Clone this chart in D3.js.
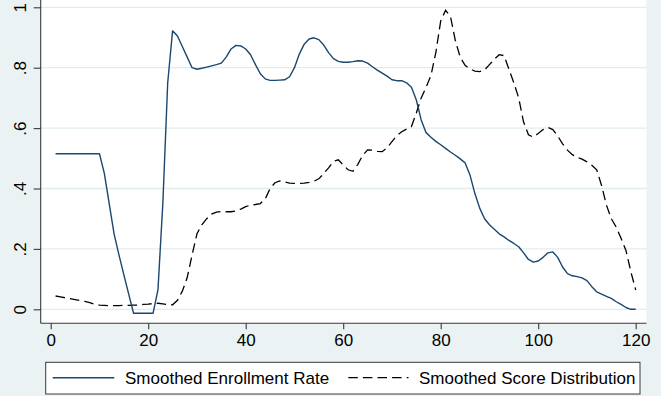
<!DOCTYPE html>
<html>
<head>
<meta charset="utf-8">
<script src="https://cdn.jsdelivr.net/npm/d3@7"></script>
<style>
  html, body { margin: 0; padding: 0; background: #eaf2f3; }
  svg { display: block; font-family: "Liberation Sans", Arial, sans-serif; }
</style>
</head>
<body>
<svg id="chart" width="661" height="396"></svg>
<script>
// Score position (x) shared by both smoothed series
const xValues = d3.range(1, 121);

// Smoothed enrollment rate at each score position 1..120
const enrollmentRate = [
  0.515, 0.515, 0.515, 0.515, 0.515, 0.515, 0.515, 0.515, 0.515, 0.515,
  0.450, 0.350, 0.250, 0.180, 0.115, 0.050, -0.013, -0.013, -0.013, -0.013,
  -0.013, 0.064, 0.350, 0.750, 0.922, 0.905, 0.870, 0.835, 0.800, 0.795,
  0.798, 0.802, 0.806, 0.810, 0.815, 0.835, 0.862, 0.874, 0.872, 0.862,
  0.843, 0.810, 0.780, 0.763, 0.758, 0.758, 0.759, 0.760, 0.770, 0.800,
  0.845, 0.878, 0.895, 0.899, 0.893, 0.875, 0.850, 0.830, 0.821, 0.818,
  0.818, 0.820, 0.823, 0.822, 0.815, 0.803, 0.792, 0.782, 0.772, 0.760,
  0.757, 0.757, 0.750, 0.735, 0.693, 0.627, 0.585, 0.570, 0.556, 0.545,
  0.533, 0.521, 0.510, 0.498, 0.485, 0.445, 0.384, 0.335, 0.300, 0.280,
  0.265, 0.250, 0.240, 0.228, 0.218, 0.207, 0.187, 0.165, 0.156, 0.160,
  0.172, 0.187, 0.190, 0.172, 0.140, 0.118, 0.111, 0.108, 0.104, 0.095,
  0.075, 0.058, 0.050, 0.043, 0.036, 0.025, 0.016, 0.006, 0.000, 0.000
];

// Smoothed score distribution at each score position 1..120
const scoreDistribution = [
  0.044, 0.041, 0.038, 0.035, 0.032, 0.029, 0.026, 0.022, 0.017, 0.014,
  0.013, 0.012, 0.012, 0.012, 0.013, 0.013, 0.014, 0.014, 0.016, 0.017,
  0.019, 0.020, 0.018, 0.015, 0.015, 0.030, 0.060, 0.105, 0.180, 0.250,
  0.280, 0.300, 0.315, 0.322, 0.324, 0.323, 0.323, 0.326, 0.332, 0.340,
  0.345, 0.347, 0.350, 0.365, 0.400, 0.419, 0.425, 0.422, 0.418, 0.417,
  0.417, 0.418, 0.420, 0.424, 0.432, 0.450, 0.468, 0.490, 0.495, 0.478,
  0.462, 0.457, 0.480, 0.510, 0.528, 0.527, 0.523, 0.522, 0.535, 0.555,
  0.575, 0.588, 0.597, 0.605, 0.650, 0.700, 0.735, 0.774, 0.850, 0.955,
  0.990, 0.970, 0.890, 0.835, 0.808, 0.796, 0.789, 0.787, 0.792, 0.810,
  0.828, 0.843, 0.840, 0.795, 0.750, 0.700, 0.620, 0.578, 0.570, 0.582,
  0.595, 0.602, 0.595, 0.574, 0.548, 0.527, 0.512, 0.503, 0.497, 0.488,
  0.477, 0.462, 0.410, 0.345, 0.300, 0.272, 0.235, 0.195, 0.125, 0.064
];

const xTicks = [0, 20, 40, 60, 80, 100, 120];
const yTicks = [0, 0.2, 0.4, 0.6, 0.8, 1];
const yTickLabels = ["0", ".2", ".4", ".6", ".8", "1"];

const seriesNames = ["Smoothed Enrollment Rate", "Smoothed Score Distribution"];

const svg = d3.select("#chart");
const W = 661, H = 396;

const plot = { left: 40.7, right: 646.5, top: 0, bottom: 323.3 };
const dashPattern = "9.5,5.1";

const x = d3.scaleLinear().domain([0, 120]).range([50.7, 635.7]);
const y = d3.scaleLinear().domain([0, 1]).range([309.3, 7.3]);

// graph region
svg.append("rect").attr("width", W).attr("height", H).attr("fill", "#eaf2f3");

// plot region
svg.append("rect")
  .attr("x", plot.left).attr("y", plot.top)
  .attr("width", plot.right - plot.left).attr("height", plot.bottom - plot.top)
  .attr("fill", "#ffffff");

// horizontal grid lines
svg.append("g")
  .selectAll("line")
  .data(yTicks)
  .join("line")
  .attr("x1", plot.left).attr("x2", plot.right)
  .attr("y1", d => y(d)).attr("y2", d => y(d))
  .attr("stroke", "#e3eced")
  .attr("stroke-width", 1.3);

// y axis
const yAxis = d3.axisLeft(y)
  .tickValues(yTicks)
  .tickSize(7)
  .tickFormat((d, i) => yTickLabels[i]);

const gy = svg.append("g")
  .attr("transform", `translate(${plot.left},0)`)
  .call(yAxis);
gy.select(".domain").attr("d", `M0,${plot.top}V${plot.bottom}`);
gy.selectAll("text")
  .attr("x", null).attr("dy", null)
  .attr("transform", "translate(-15.2,0) rotate(-90)")
  .attr("text-anchor", "middle")
  .attr("fill", "#000")
  .style("font-size", "17px")
  .style("font-family", "'Liberation Sans', Arial, sans-serif");

// x axis
const xAxis = d3.axisBottom(x)
  .tickValues(xTicks)
  .tickSize(6)
  .tickPadding(3);

const gx = svg.append("g")
  .attr("transform", `translate(0,${plot.bottom})`)
  .call(xAxis);
gx.select(".domain").attr("d", `M${plot.left},0H${plot.right}`);
gx.selectAll("text")
  .attr("y", null).attr("dy", null)
  .attr("transform", "translate(0,22.7)")
  .attr("fill", "#000")
  .style("font-size", "17px")
  .style("font-family", "'Liberation Sans', Arial, sans-serif");

[gx, gy].forEach(g => {
  g.select(".domain").attr("stroke", "#3a3a3a").attr("stroke-width", 1.1);
  g.selectAll(".tick line").attr("stroke", "#3a3a3a").attr("stroke-width", 1.1);
});

// series lines
const line = d3.line()
  .x((d, i) => x(xValues[i]))
  .y(d => y(d))
  .curve(d3.curveLinear);

svg.append("path")
  .datum(scoreDistribution)
  .attr("d", line)
  .attr("fill", "none")
  .attr("stroke", "#000000")
  .attr("stroke-width", 1.3)
  .attr("stroke-dasharray", dashPattern);

svg.append("path")
  .datum(enrollmentRate)
  .attr("d", line)
  .attr("fill", "none")
  .attr("stroke", "#1a476f")
  .attr("stroke-width", 1.4)
  .attr("stroke-linejoin", "round");

// legend
const legend = svg.append("g");
legend.append("rect")
  .attr("x", 45.7).attr("y", 362.3)
  .attr("width", 640 - 45.7).attr("height", 394 - 362.3)
  .attr("fill", "#ffffff")
  .attr("stroke", "#3a3a3a")
  .attr("stroke-width", 1);

const legendItems = [
  { name: seriesNames[0], x1: 52.7, x2: 114.3, tx: 125, color: "#1a476f", dash: null, w: 1.4 },
  { name: seriesNames[1], x1: 348.3, x2: 408.5, tx: 419, color: "#000000", dash: dashPattern, w: 1.3 }
];

legendItems.forEach(it => {
  legend.append("line")
    .attr("x1", it.x1).attr("x2", it.x2)
    .attr("y1", 377.7).attr("y2", 377.7)
    .attr("stroke", it.color)
    .attr("stroke-width", it.w)
    .attr("stroke-dasharray", it.dash);
  legend.append("text")
    .attr("x", it.tx).attr("y", 384)
    .attr("fill", "#000")
    .style("font-size", "17px")
    .text(it.name);
});
</script>
</body>
</html>
